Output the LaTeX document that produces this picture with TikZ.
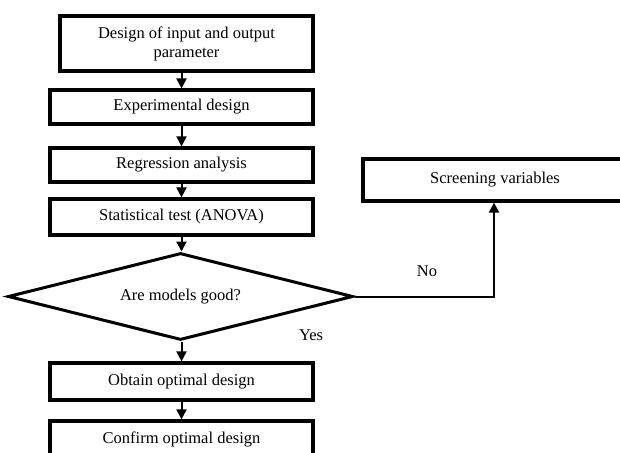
\documentclass[tikz,border=0pt]{standalone}
\usepackage{fontspec}
\setmainfont{Liberation Serif}
\usetikzlibrary{shapes.geometric,arrows.meta}
\begin{document}
\begin{tikzpicture}[x=1pt,y=-1pt,
  stepbox/.style={draw,line width=3.2pt,rectangle,minimum width=263pt,inner sep=0pt,align=center,font=\fontsize{16.5}{19}\selectfont},
  decide/.style={draw,line width=3pt,diamond,aspect=3.97,minimum width=345pt,minimum height=87pt,inner sep=0pt,font=\fontsize{16.5}{19}\selectfont},
  arr/.style={line width=2pt,-{Triangle[length=10pt,width=10pt]}},
  lbl/.style={font=\fontsize{16.5}{19}\selectfont}]
\useasboundingbox (0,0) rectangle (620,452);
\clip (0,0) rectangle (620,452);
\fill[white] (0,0) rectangle (620,452);
\node[stepbox,minimum width=253pt,minimum height=55pt] (b1) at (186.5,43.5) {Design of input and output\\parameter};
\node[stepbox,minimum height=34pt] (b2) at (181.5,107) {Experimental design};
\node[stepbox,minimum height=34pt] (b3) at (181.5,165) {Regression analysis};
\node[stepbox,minimum height=36pt] (b4) at (181.5,217) {Statistical test (ANOVA)};
\node[decide] (d) at (180.5,296.5) {Are models good?};
\node[stepbox,minimum height=37pt] (b5) at (181.5,381.5) {Obtain optimal design};
\node[stepbox,minimum height=37pt] (b6) at (181.5,439.5) {Confirm optimal design};
\node[stepbox,minimum width=264pt,minimum height=42pt] (s) at (495,180) {Screening variables};
\coordinate (c) at (494,296.5);
\draw[arr] (b1.south -| b2.north) -- (b2.north);
\draw[arr] (b2.south) -- (b3.north);
\draw[arr] (b3.south) -- (b4.north);
\draw[arr] (b4.south) -- (b4.south |- d.north);
\draw[arr] (b5.north |- d.south) -- (b5.north);
\draw[arr] (b5.south) -- (b6.north);
\draw[arr] (d.east) -- (c) -- (c |- s.south);
\node[lbl] (no) at (427,271) {No};
\node[lbl] (yes) at (311,335) {Yes};
\end{tikzpicture}
\end{document}
